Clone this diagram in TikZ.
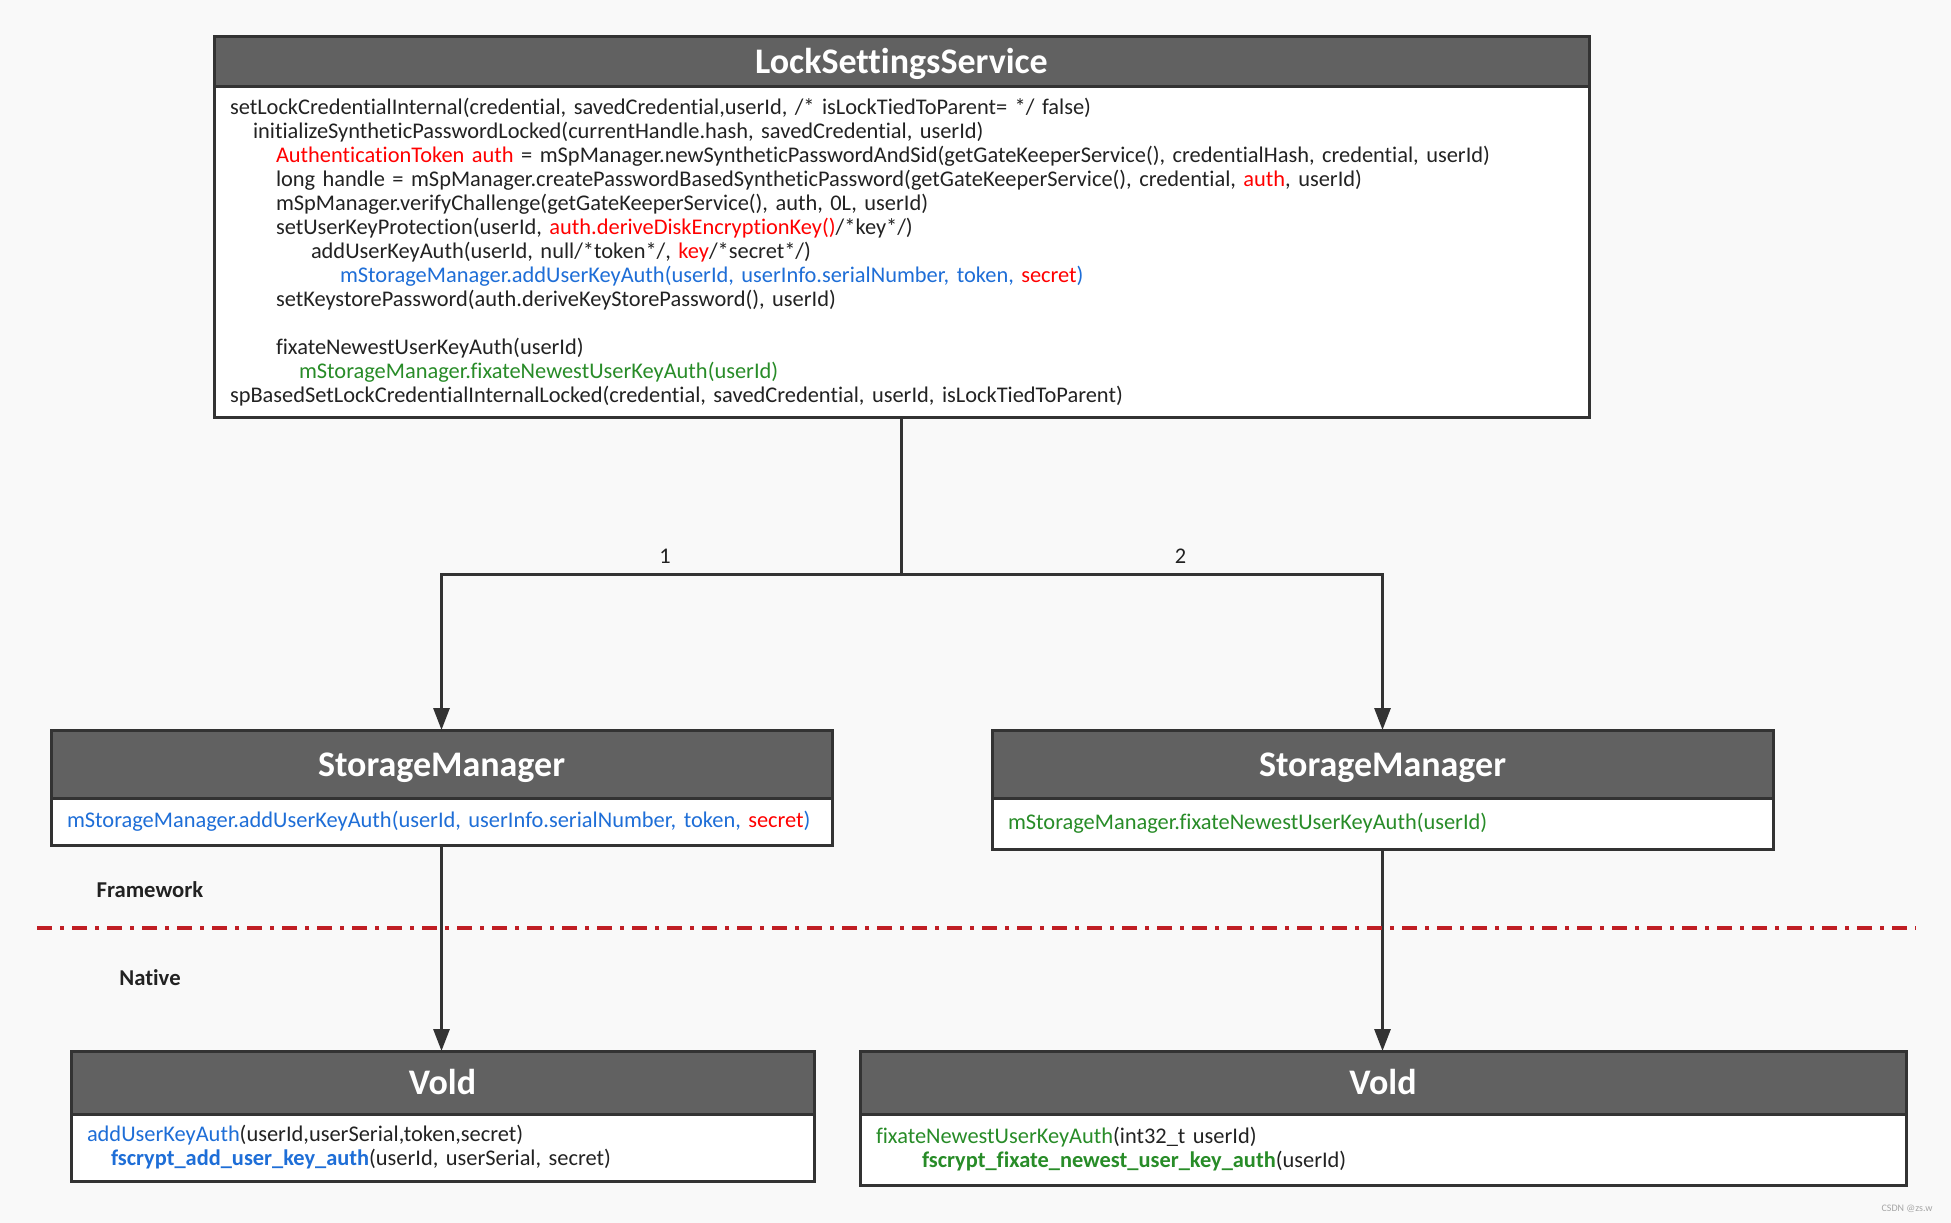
\documentclass[tikz,border=0pt]{standalone}
\usepackage{fontspec}
\setmainfont{Carlito}[Ligatures=NoCommon]
\usetikzlibrary{arrows.meta}

\definecolor{bgpaper}{RGB}{249,249,249}
\definecolor{headgray}{RGB}{97,97,97}
\definecolor{boxline}{RGB}{51,51,51}
\definecolor{codetext}{RGB}{34,34,34}
\definecolor{keyred}{RGB}{255,0,0}
\definecolor{callblue}{RGB}{30,110,215}
\definecolor{fixgreen}{RGB}{40,140,40}
\definecolor{divred}{RGB}{192,30,36}

\tikzset{every picture/.style={line width=0.75pt}}
\tikzset{
  clshead/.style={draw=boxline, line width=2.25pt, fill=headgray, text=white, font=\fontsize{27}{30}\selectfont\bfseries, text height=18pt, text depth=0pt, anchor=north west, inner sep=0pt, outer sep=0pt},
  clsbody/.style={draw=boxline, line width=2.25pt, fill=white, text=codetext, font=\fontsize{16.8}{18}\selectfont, anchor=north, align=left, inner xsep=12pt, inner ysep=0pt, outer sep=0pt},
  flow/.style={draw=boxline, line width=2.25pt},
  flowarrow/.style={flow, -{Triangle[length=16.5pt,width=12pt]}},
  branch/.style={above, inner ysep=7pt, text=codetext, font=\fontsize{16.8}{18}\selectfont},
  layer/.style={font=\fontsize{17}{19}\selectfont\bfseries, text=codetext},
  divider/.style={draw=divred, line width=2.5pt, dash pattern=on 11.25pt off 6pt on 3pt off 6pt}
}
\newcommand{\kred}[1]{\textcolor{keyred}{#1}}
\newcommand{\cblue}[1]{\textcolor{callblue}{#1}}
\newcommand{\fgreen}[1]{\textcolor{fixgreen}{#1}}

\begin{document}
\begin{tikzpicture}[x=0.75pt,y=0.75pt,yscale=-1,xscale=1]
	%Background
	\fill[bgpaper] (0,0) rectangle (1951,1223);

	%Shape: Class [id:lss]
	\node[clshead, minimum width=1031.25pt, minimum height=37.5pt] (lssHead) at (214,37) {LockSettingsService};
	\node[clsbody, text width=1007.25pt, minimum height=247.5pt] (lssBody) at (lssHead.south) {%
setLockCredentialInternal(credential, savedCredential,userId, /* isLockTiedToParent= */ false)\\
\hspace*{17.25pt}initializeSyntheticPasswordLocked(currentHandle.hash, savedCredential, userId)\\
\hspace*{34.5pt}\kred{AuthenticationToken auth} = mSpManager.newSyntheticPasswordAndSid(getGateKeeperService(), credentialHash, credential, userId)\\
\hspace*{34.5pt}long handle = mSpManager.createPasswordBasedSyntheticPassword(getGateKeeperService(), credential, \kred{auth}, userId)\\
\hspace*{34.5pt}mSpManager.verifyChallenge(getGateKeeperService(), auth, 0L, userId)\\
\hspace*{34.5pt}setUserKeyProtection(userId, \kred{auth.deriveDiskEncryptionKey()}/*key*/)\\
\hspace*{60.75pt}addUserKeyAuth(userId, null/*token*/, \kred{key}/*secret*/)\\
\hspace*{82.5pt}\cblue{mStorageManager.addUserKeyAuth(userId, userInfo.serialNumber, token, \kred{secret})}\\
\hspace*{34.5pt}setKeystorePassword(auth.deriveKeyStorePassword(), userId)\\
\mbox{}\\
\hspace*{34.5pt}fixateNewestUserKeyAuth(userId)\\
\hspace*{51.75pt}\fgreen{mStorageManager.fixateNewestUserKeyAuth(userId)}\\
spBasedSetLockCredentialInternalLocked(credential, savedCredential, userId, isLockTiedToParent)};

	%Shape: Class [id:smL]
	\node[clshead, minimum width=585.75pt, minimum height=51pt] (smLHead) at (51,730) {StorageManager};
	\node[clsbody, text width=561.75pt, minimum height=35.25pt] (smLBody) at (smLHead.south) {\cblue{mStorageManager.addUserKeyAuth(userId, userInfo.serialNumber, token, \kred{secret})}};

	%Shape: Class [id:smR]
	\node[clshead, minimum width=585.75pt, minimum height=51pt] (smRHead) at (992,730) {StorageManager};
	\node[clsbody, text width=561.75pt, minimum height=38.25pt] (smRBody) at (smRHead.south) {\fgreen{mStorageManager.fixateNewestUserKeyAuth(userId)}};

	%Shape: Class [id:voldL]
	\node[clshead, minimum width=557.25pt, minimum height=47.25pt] (voldLHead) at (71,1051) {Vold};
	\node[clsbody, text width=533.25pt, minimum height=50.25pt] (voldLBody) at (voldLHead.south) {%
\cblue{addUserKeyAuth}(userId,userSerial,token,secret)\\
\hspace*{18pt}\cblue{\bfseries fscrypt\_add\_user\_key\_auth}(userId, userSerial, secret)};

	%Shape: Class [id:voldR]
	\node[clshead, minimum width=784.5pt, minimum height=47.25pt] (voldRHead) at (860,1051) {Vold};
	\node[clsbody, text width=760.5pt, minimum height=53.25pt] (voldRBody) at (voldRHead.south) {%
\fgreen{fixateNewestUserKeyAuth}(int32\_t userId)\\
\hspace*{34.5pt}\fgreen{\bfseries fscrypt\_fixate\_newest\_user\_key\_auth}(userId)};

	%Straight Lines [id:fork]
	\path (lssBody.south) ++(0,157) coordinate (fork);
	\draw[flow] (lssBody.south) -- (fork);
	\draw[flowarrow] (fork) -| node[branch, pos=0.257] (lblOne) {1} (smLHead.north);
	\draw[flowarrow] (fork) -| node[branch, pos=0.29] (lblTwo) {2} (smRHead.north);
	\draw[flowarrow] (smLBody.south) -- (smLBody.south |- voldLHead.north);
	\draw[flowarrow] (smRBody.south) -- (smRBody.south |- voldRHead.north);

	%Dash Dot Line [id:divider]
	\coordinate (divL) at (37,928);
	\coordinate (divR) at (1916,928);
	\draw[divider] (divL) -- (divR);

	% Text Node
	\node[layer] (framework) at (150,890) {Framework};
	% Text Node
	\node[layer] (native) at (150,978) {Native};
	% Text Node
	\node[font=\fontsize{7.5}{8}\selectfont, text=black!35] (mark) at (1907,1209) {CSDN @zs.w};

\end{tikzpicture}
\end{document}
